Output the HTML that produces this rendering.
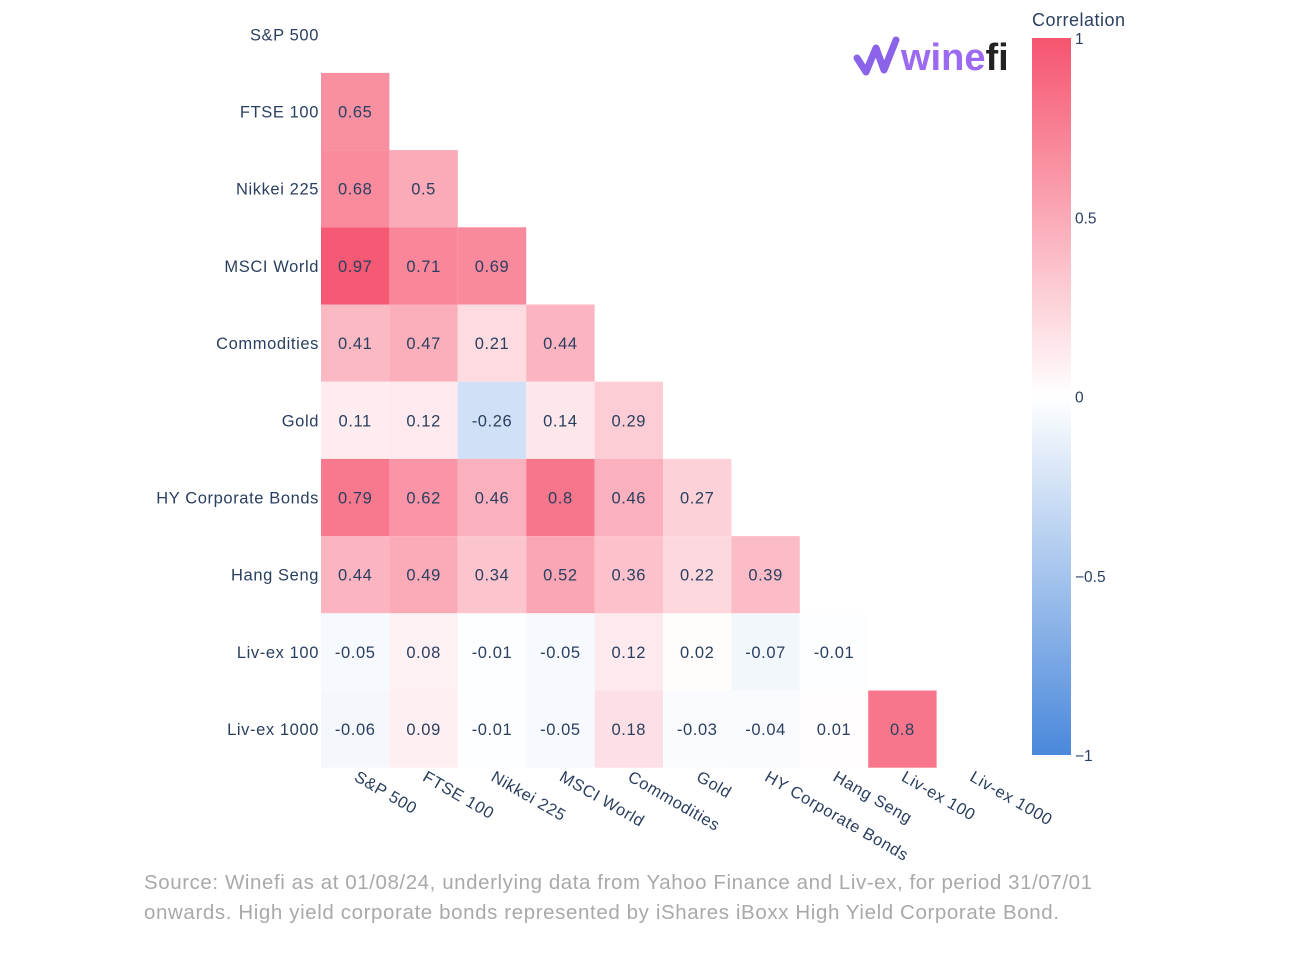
<!DOCTYPE html>
<html><head><meta charset="utf-8"><style>
body{margin:0;background:#fff;width:1292px;height:969px;overflow:hidden;font-family:"Liberation Sans",sans-serif}
</style></head><body>
<svg id="c" width="1292" height="969">
<defs><linearGradient id="cb" x1="0" y1="0" x2="0" y2="1">
<stop offset="0" stop-color="#f6546f"/><stop offset="0.5" stop-color="#ffffff"/><stop offset="1" stop-color="#4a88db"/></linearGradient></defs>
<text x="901" y="70" font-size="38" font-weight="bold"><tspan fill="#9b6af0">wine</tspan><tspan fill="#222">fi</tspan></text>
</svg>
<script>
const labels=["S&P 500","FTSE 100","Nikkei 225","MSCI World","Commodities","Gold","HY Corporate Bonds","Hang Seng","Liv-ex 100","Liv-ex 1000"];
const rowValues=[
[],
[0.65],
[0.68,0.5],
[0.97,0.71,0.69],
[0.41,0.47,0.21,0.44],
[0.11,0.12,-0.26,0.14,0.29],
[0.79,0.62,0.46,0.8,0.46,0.27],
[0.44,0.49,0.34,0.52,0.36,0.22,0.39],
[-0.05,0.08,-0.01,-0.05,0.12,0.02,-0.07,-0.01],
[-0.06,0.09,-0.01,-0.05,0.18,-0.03,-0.04,0.01,0.8]
];
const cbTicks=[1,0.5,0,-0.5,-1];
const NS="http://www.w3.org/2000/svg",svg=document.getElementById('c');
const x0=321,cw=68.4,y0=-4.3,rh=77.2;
const xs=i=>x0+i*cw, ys=j=>y0+j*rh;
const cbTop=38,cbBot=755,cbY=v=>cbTop+(1-v)/2*(cbBot-cbTop);
function mix(a,b,t){return a.map((v,i)=>Math.round(v+(b[i]-v)*t));}
function color(v){const w=[255,255,255];return 'rgb('+(v>=0?mix(w,[246,84,111],v):mix(w,[74,136,219],-v)).join(',')+')';}
function el(tag,attrs,txt){const e=document.createElementNS(NS,tag);for(const k in attrs)e.setAttribute(k,attrs[k]);if(txt!==undefined)e.textContent=txt;svg.appendChild(e);return e;}
rowValues.forEach((row,j)=>{row.forEach((v,i)=>{
 const r=el('rect',{x:xs(i),y:ys(j),width:cw,height:rh,fill:color(v)});
 
 
 const t=el('text',{x:xs(i)+cw/2,y:ys(j)+rh/2+6,'text-anchor':'middle','font-size':16.5,'letter-spacing':0.6,fill:'#2a3f5f'},String(v));
 
 
});});
labels.forEach((l,j)=>{
 const t=el('text',{x:319,y:ys(j)+rh/2+6,'text-anchor':'end','font-size':16.5,'letter-spacing':0.6,fill:'#2a3f5f'},l);
 
 
 const cx=xs(j)+cw/2-2, cy=780;
 const u=el('text',{x:cx,y:cy,'font-size':16.5,'letter-spacing':0.6,fill:'#2a3f5f',transform:'rotate(30 '+cx+' '+cy+')'},l);
 
 
});
const cb=el('rect',{x:1032,y:cbTop,width:39,height:cbBot-cbTop,fill:'url(#cb)'});


cbTicks.forEach(v=>{
 const t=el('text',{x:1075,y:cbY(v)+6,'font-size':15.5,fill:'#2a3f5f'},(v<0?'\u2212'+(-v):String(v)));
 
 
});
const ct=el('text',{x:1032,y:26,'font-size':18,'letter-spacing':0.5,fill:'#2a3f5f'},'Correlation');


const lg=el('path',{d:'M857 58 L866 72 L876 48 L884 70 L896 40',fill:'none',stroke:'#8b63e8','stroke-width':7,'stroke-linecap':'round','stroke-linejoin':'round'});


['Source: Winefi as at 01/08/24, underlying data from Yahoo Finance and Liv-ex, for period 31/07/01','onwards. High yield corporate bonds represented by iShares iBoxx High Yield Corporate Bond.'].forEach((s,k)=>{
 const t=el('text',{x:144,y:889+k*30,'font-size':20.5,fill:'#a9a9a9',textLength:k?915:948,lengthAdjust:'spacing'},s);
 
 
});
</script>
</body></html>
